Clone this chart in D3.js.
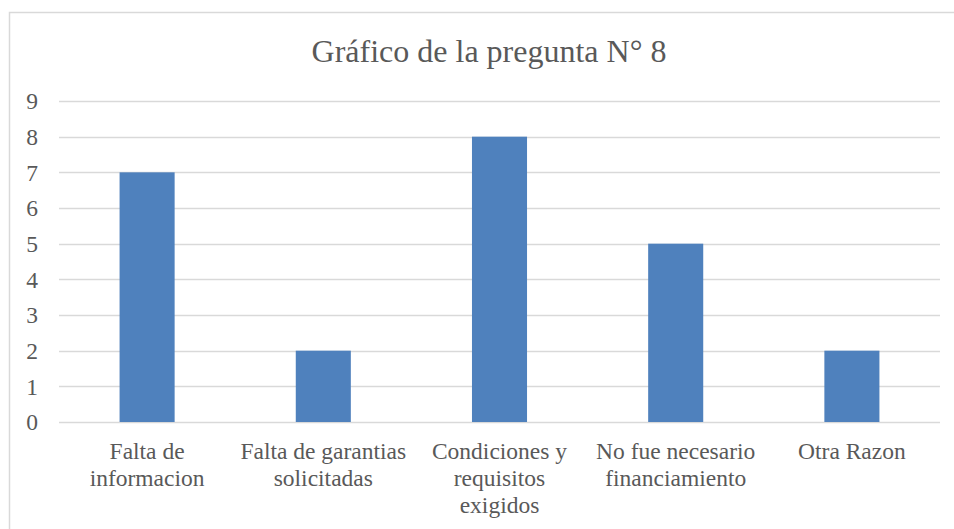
<!DOCTYPE html>
<html>
<head>
<meta charset="utf-8">
<script src="https://cdn.jsdelivr.net/npm/d3@7"></script>
<style>
  body { margin: 0; background: #fff; }
</style>
</head>
<body>
<div id="chart"></div>
<script>
const title = "Gráfico de la pregunta N° 8";
const categories = [
  ["Falta de", "informacion"],
  ["Falta de garantias", "solicitadas"],
  ["Condiciones y", "requisitos", "exigidos"],
  ["No fue necesario", "financiamiento"],
  ["Otra Razon"]
];
const values = [7, 2, 8, 5, 2];
const yTicks = [0, 1, 2, 3, 4, 5, 6, 7, 8, 9];

const W = 954, H = 529;
const margin = { top: 101, left: 59, right: 14, bottom: 107 };
const serif = "'Liberation Serif', 'Times New Roman', Times, 'DejaVu Serif', serif";

const svg = d3.select("#chart").append("svg")
  .attr("width", W)
  .attr("height", H)
  .attr("font-family", serif);

// chart frame (runs off the right and bottom edges)
svg.append("rect")
  .attr("x", 9.5).attr("y", 12.5)
  .attr("width", 980).attr("height", 540)
  .attr("fill", "#fff")
  .attr("stroke", "#d9d9d9")
  .attr("stroke-width", 1.5);

const x = d3.scaleBand()
  .domain(d3.range(categories.length))
  .range([margin.left, W - margin.right])
  .paddingInner(0.6875)
  .paddingOuter(0.34375);

const y = d3.scaleLinear()
  .domain([0, 9])
  .range([H - margin.bottom, margin.top]);

svg.append("text")
  .attr("x", 489)
  .attr("y", 62)
  .attr("text-anchor", "middle")
  .attr("fill", "#595959")
  .attr("font-family", serif)
  .attr("font-size", 32)
  .text(title);

// gridlines
svg.append("g")
  .selectAll("line")
  .data(yTicks)
  .join("line")
  .attr("x1", margin.left)
  .attr("x2", W - margin.right)
  .attr("y1", d => Math.round(y(d)) + 0.5)
  .attr("y2", d => Math.round(y(d)) + 0.5)
  .attr("stroke", "#d9d9d9")
  .attr("stroke-width", 1.5);

// y labels
svg.append("g")
  .selectAll("text")
  .data(yTicks)
  .join("text")
  .attr("x", 38)
  .attr("y", d => y(d))
  .attr("dy", "0.35em")
  .attr("text-anchor", "end")
  .attr("fill", "#595959")
  .attr("font-family", serif)
  .attr("font-size", 23.5)
  .text(d => d);

// bars
svg.append("g")
  .selectAll("rect")
  .data(values)
  .join("rect")
  .attr("x", (d, i) => x(i))
  .attr("width", x.bandwidth())
  .attr("y", d => y(d))
  .attr("height", d => y(0) - y(d))
  .attr("fill", "#4f81bd");

// category labels
const cat = svg.append("g")
  .selectAll("text")
  .data(categories)
  .join("text")
  .attr("x", (d, i) => x(i) + x.bandwidth() / 2)
  .attr("y", 459)
  .attr("text-anchor", "middle")
  .attr("fill", "#595959")
  .attr("font-family", serif)
  .attr("font-size", 23.5);

cat.selectAll("tspan")
  .data(d => d)
  .join("tspan")
  .attr("x", function () { return d3.select(this.parentNode).attr("x"); })
  .attr("dy", (d, i) => i === 0 ? 0 : 27)
  .text(d => d);
</script>
</body>
</html>
